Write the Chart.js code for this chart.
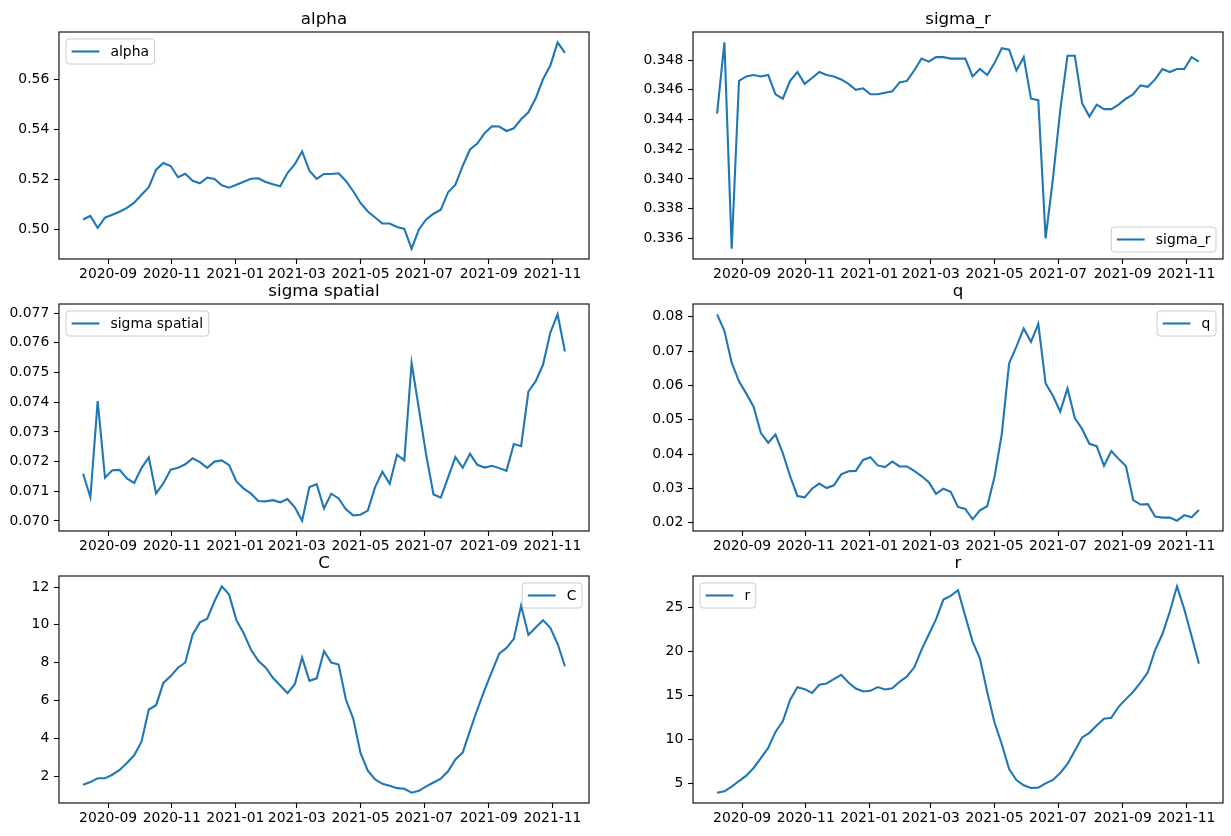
<!DOCTYPE html>
<html>
<head>
<meta charset="utf-8">
<script src="https://cdn.jsdelivr.net/npm/chart.js@4.4.1/dist/chart.umd.min.js"></script>
<style>
  html, body { margin: 0; padding: 0; background: #fff; }
  #fig { position: relative; width: 1231px; height: 836px; overflow: hidden; }
  #fig canvas { position: absolute; }
</style>
</head>
<body>
<div id="fig"></div>
<script>
// weekly observations
const dates = [
  '2020-08-08', '2020-08-15', '2020-08-22', '2020-08-29', '2020-09-05', '2020-09-12', '2020-09-19', '2020-09-26',
  '2020-10-03', '2020-10-10', '2020-10-17', '2020-10-24', '2020-10-31', '2020-11-07', '2020-11-14', '2020-11-21',
  '2020-11-28', '2020-12-05', '2020-12-12', '2020-12-19', '2020-12-26', '2021-01-02', '2021-01-09', '2021-01-16',
  '2021-01-23', '2021-01-30', '2021-02-06', '2021-02-13', '2021-02-20', '2021-02-27', '2021-03-06', '2021-03-13',
  '2021-03-20', '2021-03-27', '2021-04-03', '2021-04-10', '2021-04-17', '2021-04-24', '2021-05-01', '2021-05-08',
  '2021-05-15', '2021-05-22', '2021-05-29', '2021-06-05', '2021-06-12', '2021-06-19', '2021-06-26', '2021-07-03',
  '2021-07-10', '2021-07-17', '2021-07-24', '2021-07-31', '2021-08-07', '2021-08-14', '2021-08-21', '2021-08-28',
  '2021-09-04', '2021-09-11', '2021-09-18', '2021-09-25', '2021-10-02', '2021-10-09', '2021-10-16', '2021-10-23',
  '2021-10-30', '2021-11-06', '2021-11-13'
];

const xTicks = ['2020-09', '2020-11', '2021-01', '2021-03', '2021-05', '2021-07', '2021-09', '2021-11'];

const alpha = [
  0.5041, 0.5055, 0.5007, 0.5048, 0.5060, 0.5072, 0.5087, 0.5108, 0.5140, 0.5170,
  0.5240, 0.5267, 0.5255, 0.5210, 0.5224, 0.5196, 0.5186, 0.5208, 0.5203, 0.5178,
  0.5168, 0.5180, 0.5192, 0.5204, 0.5206, 0.5191, 0.5182, 0.5174, 0.5227, 0.5262,
  0.5313, 0.5236, 0.5203, 0.5223, 0.5223, 0.5226, 0.5195, 0.5154, 0.5107, 0.5073,
  0.5049, 0.5025, 0.5025, 0.5011, 0.5003, 0.4924, 0.5001, 0.5041, 0.5064, 0.5080,
  0.5150, 0.5180, 0.5255, 0.5321, 0.5345, 0.5386, 0.5414, 0.5413, 0.5395, 0.5406,
  0.5442, 0.5470, 0.5526, 0.5602, 0.5657, 0.5750, 0.5708
];

const sigmaR = [
  0.3444, 0.3492, 0.3353, 0.3466, 0.3469, 0.3470, 0.3469, 0.3470, 0.3457, 0.3454,
  0.3466, 0.3472, 0.3464, 0.3468, 0.3472, 0.3470, 0.3469, 0.3467, 0.3464, 0.3460,
  0.3461, 0.3457, 0.3457, 0.3458, 0.3459, 0.3465, 0.3466, 0.3473, 0.3481, 0.3479,
  0.3482, 0.3482, 0.3481, 0.3481, 0.3481, 0.3469, 0.3474, 0.3470, 0.3478, 0.3488,
  0.3487, 0.3473, 0.3482, 0.3454, 0.3453, 0.3360, 0.3400, 0.3446, 0.3483, 0.3483,
  0.3451, 0.3442, 0.3450, 0.3447, 0.3447, 0.3450, 0.3454, 0.3457, 0.3463, 0.3462,
  0.3467, 0.3474, 0.3472, 0.3474, 0.3474, 0.3482, 0.3479
];

const sigmaSpatial = [
  0.07159, 0.07080, 0.07404, 0.07146, 0.07171, 0.07172, 0.07143, 0.07128, 0.07178, 0.07214,
  0.07093, 0.07127, 0.07173, 0.07179, 0.07191, 0.07211, 0.07198, 0.07179, 0.07200, 0.07204,
  0.07188, 0.07133, 0.07109, 0.07092, 0.07067, 0.07066, 0.07070, 0.07063, 0.07074, 0.07046,
  0.07001, 0.07114, 0.07124, 0.07042, 0.07092, 0.07076, 0.07039, 0.07019, 0.07021, 0.07035,
  0.07114, 0.07166, 0.07125, 0.07223, 0.07204, 0.07532, 0.07378, 0.07222, 0.07089, 0.07079,
  0.07147, 0.07215, 0.07179, 0.07226, 0.07189, 0.07180, 0.07186, 0.07178, 0.07169, 0.07259,
  0.07252, 0.07436, 0.07471, 0.07526, 0.07634, 0.07696, 0.07571
];

const q = [
  0.0807, 0.0759, 0.0666, 0.0612, 0.0576, 0.0538, 0.0461, 0.0433, 0.0457, 0.0403,
  0.0336, 0.0278, 0.0274, 0.0299, 0.0314, 0.0301, 0.0309, 0.0341, 0.0350, 0.0351,
  0.0383, 0.0391, 0.0367, 0.0362, 0.0378, 0.0364, 0.0364, 0.0351, 0.0336, 0.0318,
  0.0284, 0.0299, 0.0290, 0.0246, 0.0240, 0.0210, 0.0236, 0.0248, 0.0333, 0.0459,
  0.0664, 0.0713, 0.0766, 0.0727, 0.0779, 0.0606, 0.0570, 0.0524, 0.0591, 0.0505,
  0.0473, 0.0430, 0.0423, 0.0366, 0.0409, 0.0386, 0.0365, 0.0266, 0.0253, 0.0254,
  0.0218, 0.0215, 0.0215, 0.0206, 0.0222, 0.0216, 0.0237
];

const C = [
  1.54, 1.68, 1.88, 1.88, 2.07, 2.32, 2.69, 3.10, 3.82, 5.52,
  5.75, 6.93, 7.29, 7.73, 8.01, 9.48, 10.13, 10.33, 11.25, 12.04,
  11.60, 10.25, 9.56, 8.68, 8.10, 7.75, 7.20, 6.79, 6.39, 6.86,
  8.27, 7.04, 7.17, 8.61, 8.01, 7.90, 6.05, 5.04, 3.22, 2.28,
  1.82, 1.59, 1.49, 1.36, 1.33, 1.12, 1.22, 1.45, 1.66, 1.86,
  2.25, 2.88, 3.24, 4.40, 5.52, 6.56, 7.53, 8.48, 8.78, 9.26,
  11.02, 9.47, 9.86, 10.25, 9.84, 9.00, 7.81
];

const r = [
  3.98, 4.13, 4.66, 5.30, 5.91, 6.78, 7.91, 9.05, 10.87, 12.07,
  14.49, 15.95, 15.72, 15.30, 16.21, 16.36, 16.85, 17.34, 16.47, 15.79,
  15.45, 15.53, 15.95, 15.68, 15.83, 16.55, 17.15, 18.17, 20.17, 21.91,
  23.65, 25.88, 26.30, 26.94, 23.99, 21.11, 19.22, 15.41, 11.93, 9.47,
  6.66, 5.42, 4.81, 4.51, 4.55, 5.04, 5.42, 6.21, 7.23, 8.74,
  10.25, 10.77, 11.61, 12.37, 12.48, 13.72, 14.59, 15.43, 16.45, 17.62,
  20.15, 21.97, 24.47, 27.38, 24.77, 21.71, 18.61
];

const yTicksAlpha = [0.50, 0.52, 0.54, 0.56];
const yTicksSigmaR = [0.336, 0.338, 0.340, 0.342, 0.344, 0.346, 0.348];
const yTicksSpatial = [0.070, 0.071, 0.072, 0.073, 0.074, 0.075, 0.076, 0.077];
const yTicksQ = [0.02, 0.03, 0.04, 0.05, 0.06, 0.07, 0.08];
const yTicksC = [2, 4, 6, 8, 10, 12];
const yTicksR = [5, 10, 15, 20, 25];

const panels = [
  { title: 'alpha', values: alpha, yTicks: yTicksAlpha, digits: 2, loc: 'upper left', col: 0, row: 0 },
  { title: 'sigma_r', values: sigmaR, yTicks: yTicksSigmaR, digits: 3, loc: 'lower right', col: 1, row: 0 },
  { title: 'sigma spatial', values: sigmaSpatial, yTicks: yTicksSpatial, digits: 3, loc: 'upper left', col: 0, row: 1 },
  { title: 'q', values: q, yTicks: yTicksQ, digits: 2, loc: 'upper right', col: 1, row: 1 },
  { title: 'C', values: C, yTicks: yTicksC, digits: 0, loc: 'upper right', col: 0, row: 2 },
  { title: 'r', values: r, yTicks: yTicksR, digits: 0, loc: 'upper left', col: 1, row: 2 }
];

// figure geometry (px)
const COL_LEFT = [59, 693];
const ROW_TOP = [32, 304, 576];
const AX_W = 530, AX_H = 227;
const PAD_L = 59, PAD_R = 8, PAD_T = 32, PAD_B = 30;
const BLUE = '#1f77b4';
const FS = 13.9;
const FONT = '"DejaVu Sans", sans-serif';

Chart.defaults.font.family = FONT;
Chart.defaults.font.size = FS;
Chart.defaults.color = '#000';

// frame, title and matplotlib-like legend box
const mplDecor = {
  id: 'mplDecor',
  afterDraw(chart, args, opts) {
    const { ctx, chartArea: a } = chart;
    ctx.save();
    ctx.strokeStyle = '#000';
    ctx.lineWidth = 1.1;
    ctx.strokeRect(a.left, a.top, a.right - a.left, a.bottom - a.top);

    ctx.fillStyle = '#000';
    ctx.font = '16.7px ' + FONT;
    ctx.textAlign = 'center';
    ctx.textBaseline = 'alphabetic';
    ctx.fillText(opts.title, (a.left + a.right) / 2, a.top - 8);

    const ds = chart.data.datasets[0];
    ctx.font = FS + 'px ' + FONT;
    const tw = ctx.measureText(ds.label).width;
    const pad = 5.6, handle = 27.8, gap = 11.1, m = 7;
    const w = pad * 2 + handle + gap + tw, h = 25;
    const x = opts.loc.includes('left') ? a.left + m : a.right - m - w;
    const y = opts.loc.includes('upper') ? a.top + m : a.bottom - m - h;
    const rad = 3;
    ctx.beginPath();
    ctx.moveTo(x + rad, y);
    ctx.arcTo(x + w, y, x + w, y + h, rad);
    ctx.arcTo(x + w, y + h, x, y + h, rad);
    ctx.arcTo(x, y + h, x, y, rad);
    ctx.arcTo(x, y, x + w, y, rad);
    ctx.closePath();
    ctx.fillStyle = 'rgba(255,255,255,0.8)';
    ctx.fill();
    ctx.strokeStyle = '#cccccc';
    ctx.lineWidth = 1;
    ctx.stroke();

    ctx.strokeStyle = ds.borderColor;
    ctx.lineWidth = 2.1;
    ctx.beginPath();
    ctx.moveTo(x + pad, y + h / 2);
    ctx.lineTo(x + pad + handle, y + h / 2);
    ctx.stroke();

    ctx.fillStyle = '#000';
    ctx.textAlign = 'left';
    ctx.textBaseline = 'middle';
    ctx.fillText(ds.label, x + pad + handle + gap, y + h / 2 + 0.5);
    ctx.restore();
  }
};

function makeChart(p) {
  const canvas = document.createElement('canvas');
  canvas.width = PAD_L + AX_W + PAD_R;
  canvas.height = PAD_T + AX_H + PAD_B;
  canvas.style.left = (COL_LEFT[p.col] - PAD_L) + 'px';
  canvas.style.top = (ROW_TOP[p.row] - PAD_T) + 'px';
  document.getElementById('fig').appendChild(canvas);

  const pts = dates.map((d, i) => ({ x: Date.parse(d), y: p.values[i] }));
  const t0 = Date.parse(dates[0]);
  const t1 = Date.parse(dates[dates.length - 1]);
  const dx = (t1 - t0) * 0.05;
  const lo = Math.min(...p.values), hi = Math.max(...p.values);
  const dy = (hi - lo) * 0.05;

  const tickGrid = { drawOnChartArea: false, tickLength: 5, tickColor: '#000', tickWidth: 1.1 };

  new Chart(canvas, {
    type: 'line',
    data: {
      datasets: [{
        label: p.title,
        data: pts,
        borderColor: BLUE,
        borderWidth: 2.1,
        pointRadius: 0,
        tension: 0,
        fill: false
      }]
    },
    options: {
      responsive: false,
      animation: false,
      layout: { padding: { left: 0, top: PAD_T, right: PAD_R, bottom: 0 } },
      plugins: {
        legend: { display: false },
        tooltip: { enabled: false },
        mplDecor: { title: p.title, loc: p.loc }
      },
      scales: {
        x: {
          type: 'linear',
          min: t0 - dx,
          max: t1 + dx,
          bounds: 'data',
          afterBuildTicks: s => { s.ticks = xTicks.map(m => ({ value: Date.parse(m + '-01') })); },
          afterFit: s => { s.height = PAD_B; },
          ticks: {
            autoSkip: false,
            maxRotation: 0,
            padding: 2,
            callback: v => new Date(v).toISOString().slice(0, 7)
          },
          grid: tickGrid,
          border: { display: false }
        },
        y: {
          type: 'linear',
          min: lo - dy,
          max: hi + dy,
          bounds: 'data',
          afterBuildTicks: s => { s.ticks = p.yTicks.map(v => ({ value: v })); },
          afterFit: s => { s.width = PAD_L; },
          ticks: {
            padding: 4.7,
            callback: v => v.toFixed(p.digits)
          },
          grid: tickGrid,
          border: { display: false }
        }
      }
    },
    plugins: [mplDecor]
  });
}

panels.forEach(makeChart);
</script>
</body>
</html>
